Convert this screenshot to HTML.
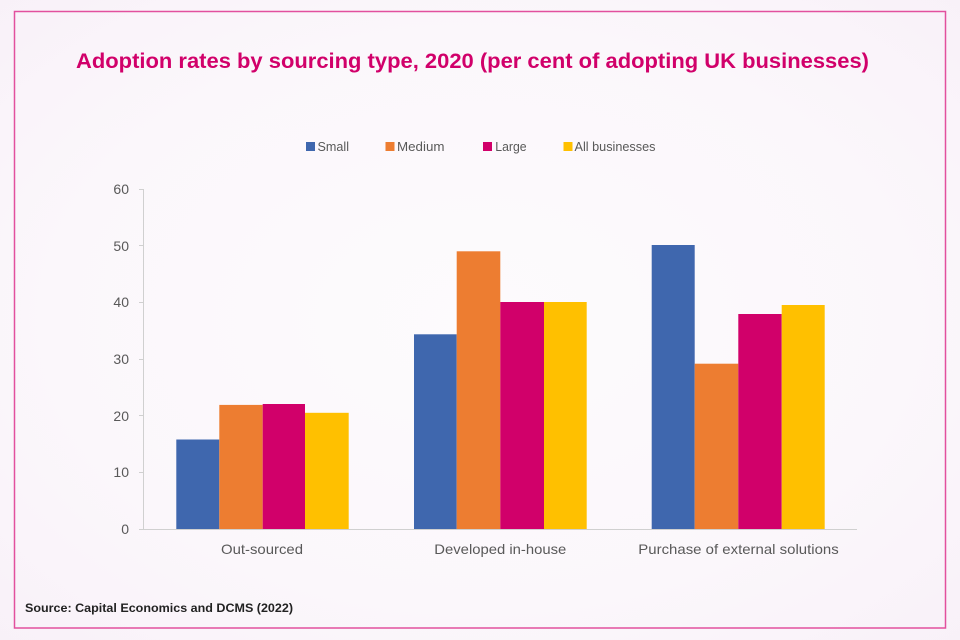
<!DOCTYPE html>
<html><head><meta charset="utf-8"><style>
html,body{margin:0;padding:0;width:960px;height:640px;overflow:hidden;background:#fbf7fb;}
svg{display:block;}
text{font-family:"Liberation Sans",sans-serif;}
</style></head><body>
<svg width="960" height="640" viewBox="0 0 960 640" xmlns="http://www.w3.org/2000/svg">
<defs>
<radialGradient id="bg" cx="0.5" cy="0.5" r="0.75">
<stop offset="0" stop-color="#fdfbfd"/>
<stop offset="0.6" stop-color="#fbf7fb"/>
<stop offset="1" stop-color="#f8f0f8"/>
</radialGradient>
</defs>
<rect x="0" y="0" width="960" height="640" fill="url(#bg)"/>
<rect x="14.5" y="11.5" width="931" height="616.5" fill="none" stroke="#e2509e" stroke-width="1.5"/>
<text x="472.5" y="68" font-size="21" font-weight="bold" fill="#d1006a" text-anchor="middle" textLength="793" lengthAdjust="spacingAndGlyphs">Adoption rates by sourcing type, 2020 (per cent of adopting UK businesses)</text>
<!-- legend -->
<g font-size="13" fill="#595959">
<rect x="306" y="142" width="9" height="9" fill="#3f67ae"/><text x="317.5" y="151" textLength="31.5" lengthAdjust="spacingAndGlyphs">Small</text>
<rect x="385.5" y="142" width="9" height="9" fill="#ed7d31"/><text x="397" y="151" textLength="47.5" lengthAdjust="spacingAndGlyphs">Medium</text>
<rect x="483" y="142" width="9" height="9" fill="#d1006a"/><text x="495.3" y="151" textLength="31.3" lengthAdjust="spacingAndGlyphs">Large</text>
<rect x="563.5" y="142" width="9" height="9" fill="#ffc000"/><text x="574.5" y="151" textLength="81" lengthAdjust="spacingAndGlyphs">All businesses</text>
</g>
<!-- axes -->
<g stroke="#d0d0d0" stroke-width="1">
<line x1="143.5" y1="189" x2="143.5" y2="529"/>
<line x1="143" y1="529.5" x2="857" y2="529.5"/>
<line x1="139" y1="189.5" x2="143" y2="189.5"/>
<line x1="139" y1="245.5" x2="143" y2="245.5"/>
<line x1="139" y1="302.5" x2="143" y2="302.5"/>
<line x1="139" y1="359.5" x2="143" y2="359.5"/>
<line x1="139" y1="415.5" x2="143" y2="415.5"/>
<line x1="139" y1="472.5" x2="143" y2="472.5"/>
<line x1="139" y1="529.5" x2="143" y2="529.5"/>
</g>
<g font-size="14" fill="#595959" text-anchor="end">
<text x="129" y="194">60</text>
<text x="129" y="251">50</text>
<text x="129" y="307">40</text>
<text x="129" y="364">30</text>
<text x="129" y="421">20</text>
<text x="129" y="477">10</text>
<text x="129" y="534">0</text>
</g>
<g>
<rect x="176.3" y="439.5" width="43" height="89.5" fill="#3f67ae"/>
<rect x="219.3" y="404.9" width="43.4" height="124.1" fill="#ed7d31"/>
<rect x="262.7" y="404" width="42.3" height="125" fill="#d1006a"/>
<rect x="305" y="412.8" width="43.7" height="116.2" fill="#ffc000"/>

<rect x="414" y="334.3" width="42.7" height="194.7" fill="#3f67ae"/>
<rect x="456.7" y="251.3" width="43.6" height="277.7" fill="#ed7d31"/>
<rect x="500.3" y="302" width="43.7" height="227" fill="#d1006a"/>
<rect x="544" y="302" width="42.7" height="227" fill="#ffc000"/>

<rect x="651.7" y="245" width="43" height="284" fill="#3f67ae"/>
<rect x="694.7" y="363.7" width="43.6" height="165.3" fill="#ed7d31"/>
<rect x="738.3" y="314" width="43.4" height="215" fill="#d1006a"/>
<rect x="781.7" y="305" width="43" height="224" fill="#ffc000"/>
</g>
<g font-size="14" fill="#595959">
<text x="221" y="554" textLength="82" lengthAdjust="spacingAndGlyphs">Out-sourced</text>
<text x="434.3" y="554" textLength="132" lengthAdjust="spacingAndGlyphs">Developed in-house</text>
<text x="638.3" y="554" textLength="200.4" lengthAdjust="spacingAndGlyphs">Purchase of external solutions</text>
</g>
<text x="25" y="612" font-size="12" font-weight="bold" fill="#222" textLength="268" lengthAdjust="spacingAndGlyphs">Source: Capital Economics and DCMS (2022)</text>
</svg>
</body></html>
